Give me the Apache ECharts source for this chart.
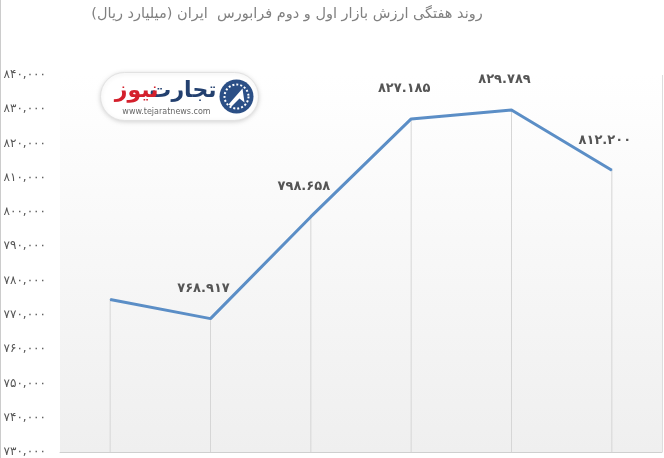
<!DOCTYPE html>
<html>
<head>
<meta charset="utf-8">
<script src="https://cdn.jsdelivr.net/npm/echarts@6/dist/echarts.min.js"></script>
<style>
  html, body { margin: 0; padding: 0; background: #fff; }
  #chart { width: 664px; height: 458px; }
</style>
</head>
<body>
<div id="chart"></div>
<script>
// Weekly market value, first and second market of Iran Fara Bourse (billion rials)
const weeks = ['w1', 'w2', 'w3', 'w4', 'w5', 'w6'];
const marketValue = [774500, 768917, 798658, 827185, 829789, 812200];
const showLabel = [false, true, true, true, true, true];
const yMin = 730000;
const yMax = 840000;
const yStep = 10000;

const faDigits = '۰۱۲۳۴۵۶۷۸۹';
function toFa(n, sep) {
  const s = String(Math.round(n)).replace(/\B(?=(\d{3})+(?!\d))/g, sep);
  return s.replace(/\d/g, d => faDigits[+d]);
}

const chart = echarts.init(document.getElementById('chart'), null, { renderer: 'canvas' });

chart.setOption({
  animation: false,
  backgroundColor: '#ffffff',
  title: {
    text: 'روند هفتگی ارزش بازار اول و دوم فرابورس  ایران (میلیارد ریال)',
    left: 282,
    top: 2,
    textAlign: 'center',
    textStyle: { fontFamily: 'DejaVu Sans', fontSize: 14.5, fontWeight: 'normal', color: '#808080' }
  },
  grid: {
    left: 60, right: 2, top: 75, bottom: 6,
    outerBoundsMode: 'none',
    containLabel: false,
    show: true,
    borderWidth: 0,
    backgroundColor: new echarts.graphic.LinearGradient(0, 0, 0, 1, [
      { offset: 0, color: '#ffffff' },
      { offset: 1, color: '#efefef' }
    ])
  },
  xAxis: {
    type: 'category',
    data: weeks,
    boundaryGap: true,
    axisLine: { show: true, lineStyle: { color: '#cfcfcf', width: 1 } },
    axisTick: { show: false },
    axisLabel: { show: false },
    splitLine: { show: false }
  },
  yAxis: {
    type: 'value',
    min: yMin,
    max: yMax,
    interval: yStep,
    axisLine: { show: false },
    axisTick: { show: false },
    splitLine: { show: false },
    axisLabel: {
      margin: 14,
      color: '#555555',
      fontFamily: 'DejaVu Sans',
      fontSize: 12,
      formatter: v => toFa(v, ',')
    }
  },
  series: [
    {
      // thin drop lines from each point to the base
      type: 'bar',
      data: marketValue,
      barWidth: 1,
      itemStyle: { color: '#d6d6d6' },
      silent: true,
      z: 1
    },
    {
      type: 'line',
      data: marketValue.map((v, i) => ({ value: v, label: { show: showLabel[i] } })),
      symbol: 'circle',
      symbolSize: 1,
      showSymbol: true,
      itemStyle: { color: '#5b8ec6' },
      lineStyle: { color: '#5b8ec6', width: 3 },
      label: {
        show: true,
        position: 'top',
        distance: 23,
        offset: [-7, 0],
        color: '#555555',
        fontFamily: 'DejaVu Sans',
        fontSize: 13,
        fontWeight: 'bold',
        formatter: p => toFa(p.value, '.')
      },
      z: 3
    }
  ],
  graphic: [
    // page frame lines
    { type: 'line', shape: { x1: 0.5, y1: 0, x2: 0.5, y2: 458 }, style: { stroke: '#cccccc', lineWidth: 1 } },
    { type: 'line', shape: { x1: 662.5, y1: 75, x2: 662.5, y2: 452 }, style: { stroke: '#dddddd', lineWidth: 1 } },
    // site badge
    {
      type: 'group', left: 100, top: 72, z: 10,
      children: [
        { type: 'rect', shape: { x: 0, y: 0, width: 158, height: 48, r: 24 },
          style: { fill: '#ffffff', stroke: '#e2e2e2', lineWidth: 1, shadowBlur: 4, shadowColor: 'rgba(0,0,0,0.15)', shadowOffsetY: 1 } },
        { type: 'circle', shape: { cx: 136, cy: 24, r: 17 }, style: { fill: '#2b4f86' } },
        { type: 'circle', shape: { cx: 136, cy: 24, r: 12 }, style: { fill: 'none', stroke: '#ffffff', lineWidth: 2, lineDash: [2, 2] } },
        { type: 'polygon', shape: { points: [[128, 32], [142, 16], [144, 30], [139, 26], [131, 34]] }, style: { fill: '#ffffff' } },
        { type: 'text', style: { text: 'تجارت', x: 116, y: 19, align: 'right', verticalAlign: 'middle',
            font: 'bold 22px "DejaVu Sans"', fill: '#23406f' } },
        { type: 'text', style: { text: 'نیوز', x: 58, y: 19, align: 'right', verticalAlign: 'middle',
            font: 'bold 22px "DejaVu Sans"', fill: '#d4202c' } },
        { type: 'text', style: { text: 'www.tejaratnews.com', x: 66, y: 39, align: 'center', verticalAlign: 'middle',
            font: '8px "DejaVu Sans"', fill: '#666666' } }
      ]
    }
  ]
});
</script>
</body>
</html>
